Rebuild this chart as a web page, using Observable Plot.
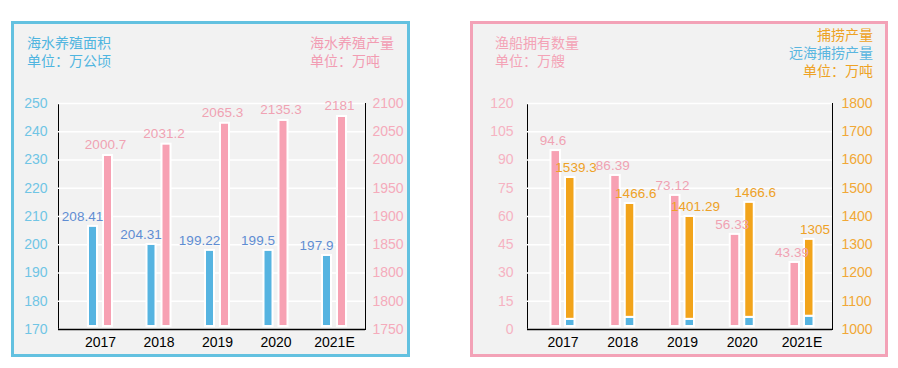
<!DOCTYPE html>
<html>
<head>
<meta charset="utf-8">
<script src="https://cdn.jsdelivr.net/npm/d3@7"></script>
<script src="https://cdn.jsdelivr.net/npm/@observablehq/plot@0.6"></script>
<style>
  html, body { margin: 0; padding: 0; background: #fff; }
  body { width: 898px; height: 368px; position: relative; overflow: hidden;
         font-family: "Liberation Sans", Arial, "Noto Sans CJK SC", sans-serif; }
  .panel { position: absolute; box-sizing: border-box; background: #f2f2f2; }
  .plotwrap { position: absolute; top: 0; }
  .t { position: absolute; font-size: 14px; line-height: 18px; white-space: nowrap; }
</style>
</head>
<body>
<div class="panel" style="left:11px;top:21px;width:399px;height:336px;border:3px solid #63c1e0;"></div>
<div class="panel" style="left:470px;top:21px;width:418px;height:336px;border:3px solid #f3a2b7;"></div>

<div class="t" style="left:27px;top:34px;color:#4fb5e0;">海水养殖面积<br>单位：万公顷</div>
<div class="t" style="left:310px;top:34px;color:#f29cb2;">海水养殖产量<br>单位：万吨</div>
<div class="t" style="left:495px;top:34px;color:#f4a3b6;">渔船拥有数量<br>单位：万艘</div>
<div class="t" style="right:25px;top:26px;text-align:right;"><span style="color:#eea224;">捕捞产量</span><br><span style="color:#5ab6e0;">远海捕捞产量</span><br><span style="color:#eea224;">单位：万吨</span></div>

<div id="chartA" class="plotwrap" style="left:0px;"></div>
<div id="chartB" class="plotwrap" style="left:460px;"></div>

<script>
// ---------- data ----------
const years = ["2017", "2018", "2019", "2020", "2021E"];

// Left panel: 海水养殖面积 (万公顷) and 海水养殖产量 (万吨)
const areaLabels = ["208.41", "204.31", "199.22", "199.5", "197.9"];
const areaBars = [206.5, 200.1, 198.0, 198.0, 196.2];          // bar tops read on left axis
const outputLabels = ["2000.7", "2031.2", "2065.3", "2135.3", "2181"];
const outputBars = [2008, 2028, 2065, 2070, 2077];             // bar tops read on right axis
const areaTicks = [170, 180, 190, 200, 210, 220, 230, 240, 250];
const outputTickLabels = ["1750", "1800", "1800", "1850", "1900", "1950", "2000", "2050", "2100"];

// Right panel: 渔船拥有数量 (万艘), 捕捞产量 / 远海捕捞产量 (万吨)
const vesselLabels = ["94.6", "86.39", "73.12", "56.33", "43.39"];
const vesselBars = [95.0, 81.8, 71.2, 50.5, 35.6];
const catchLabels = ["1539.3", "1466.6", "1401.29", "1466.6", "1305"];
const catchBars = [1538, 1446, 1400, 1450, 1319];
const farSeaBars = [1036, 1043, 1036, 1043, 1047];
const vesselTicks = [0, 15, 30, 45, 60, 75, 90, 105, 120];
const catchTicks = [1000, 1100, 1200, 1300, 1400, 1500, 1600, 1700, 1800];

// ---------- styles ----------
const font = "Liberation Sans, Arial, sans-serif";
const C = {
  blueBar: "#56b4e1", pinkBar: "#f7a1b3", orangeBar: "#f2a41b",
  blueLabel: "#5f8dd3", pinkLabel: "#f0a2b3", orangeLabel: "#eea126",
  blueTick: "#70c5e5", pinkTick: "#f5abbb", pinkTickB: "#f6b3c2", orangeTick: "#f1a836"
};

// ---------- left chart ----------
const rightA = d3.scaleLinear([2000, 2100], [230, 250]); // right-axis reading → left-axis units
const dataA = years.map((year, i) => ({
  year, area: areaBars[i], areaLabel: areaLabels[i],
  out: rightA(outputBars[i]), outLabel: outputLabels[i]
}));
const stepA = 58.5, halfA = stepA / 2;
const chartA = Plot.plot({
  width: 450, height: 368,
  marginLeft: 58, marginRight: 85, marginTop: 103, marginBottom: 39,
  style: {background: "transparent", fontFamily: font, fontSize: "14px", overflow: "visible"},
  x: {type: "band", domain: years, range: [100 - halfA, 100 + 4 * stepA + halfA], padding: 0, round: false, label: null},
  y: {domain: [170, 250], label: null},
  marks: [
    Plot.frame({stroke: "black"}),
    Plot.ruleY(areaTicks, {stroke: "white", strokeWidth: 1.5}),
    Plot.ruleY([170], {stroke: "black", strokeWidth: 1.5}),
    Plot.axisY(areaTicks, {anchor: "left", tickSize: 0, tickPadding: 11, fill: C.blueTick, fontSize: 14, label: null}),
    Plot.axisY(areaTicks, {anchor: "right", tickSize: 0, tickPadding: 7, fill: C.pinkTick, fontSize: 14, label: null,
      tickFormat: (d) => outputTickLabels[areaTicks.indexOf(d)]}),
    Plot.axisX({anchor: "bottom", tickSize: 0, tickPadding: 8, fill: "black", fontSize: 14, label: null}),
    Plot.barY(dataA, {x: "year", y1: 170, y2: "area", fill: C.blueBar, stroke: "white", strokeWidth: 2,
      insetLeft: halfA - 12, insetRight: halfA + 3, insetBottom: 3}),
    Plot.barY(dataA, {x: "year", y1: 170, y2: "out", fill: C.pinkBar, stroke: "white", strokeWidth: 2,
      insetLeft: halfA + 3, insetRight: halfA - 12, insetBottom: 3}),
    Plot.text(dataA, {x: "year", y: "area", text: "areaLabel", dx: -18, dy: -10, fill: C.blueLabel, fontSize: 13.5}),
    Plot.text(dataA, {x: "year", y: "out", text: "outLabel", dx: 5, dy: -11, fill: C.pinkLabel, fontSize: 13.5})
  ]
});
document.getElementById("chartA").appendChild(chartA);

// ---------- right chart ----------
const rightB = d3.scaleLinear([1000, 1800], [0, 120]); // right-axis (万吨) → left-axis units
const dataB = years.map((year, i) => ({
  year, vessel: vesselBars[i], vesselLabel: vesselLabels[i],
  far: rightB(farSeaBars[i]), catch: rightB(catchBars[i]), catchLabel: catchLabels[i]
}));
const stepB = 59.75, halfB = stepB / 2;
const chartB = Plot.plot({
  width: 438, height: 368,
  marginLeft: 67, marginRight: 66, marginTop: 103, marginBottom: 39,
  style: {background: "transparent", fontFamily: font, fontSize: "14px", overflow: "visible"},
  x: {type: "band", domain: years, range: [102.5 - halfB, 102.5 + 4 * stepB + halfB], padding: 0, round: false, label: null},
  y: {domain: [0, 120], label: null},
  marks: [
    Plot.frame({stroke: "black"}),
    Plot.ruleY(vesselTicks, {stroke: "white", strokeWidth: 1.5}),
    Plot.ruleY([0], {stroke: "black", strokeWidth: 1.5}),
    Plot.axisY(vesselTicks, {anchor: "left", tickSize: 0, tickPadding: 14, fill: C.pinkTickB, fontSize: 14, label: null}),
    Plot.axisY(catchTicks.map(rightB), {anchor: "right", tickSize: 0, tickPadding: 9, fill: C.orangeTick, fontSize: 14, label: null,
      tickFormat: (d) => String(Math.round(rightB.invert(d)))}),
    Plot.axisX({anchor: "bottom", tickSize: 0, tickPadding: 8, fill: "black", fontSize: 14, label: null}),
    Plot.barY(dataB, {x: "year", y1: 0, y2: "vessel", fill: C.pinkBar, stroke: "white", strokeWidth: 2,
      insetLeft: halfB - 12, insetRight: halfB + 2.5, insetBottom: 3}),
    Plot.barY(dataB, {x: "year", y1: 0, y2: "far", fill: C.blueBar, stroke: "white", strokeWidth: 2,
      insetLeft: halfB + 2.5, insetRight: halfB - 12, insetBottom: 3}),
    Plot.barY(dataB, {x: "year", y1: "far", y2: "catch", fill: C.orangeBar, stroke: "white", strokeWidth: 2,
      insetLeft: halfB + 2.5, insetRight: halfB - 12}),
    Plot.text(dataB, {x: "year", y: "vessel", text: "vesselLabel", dx: -10, dy: -10, fill: C.pinkLabel, fontSize: 13.5}),
    Plot.text(dataB, {x: "year", y: "catch", text: "catchLabel", dx: 13, dy: -10, fill: C.orangeLabel, fontSize: 13.5})
  ]
});
document.getElementById("chartB").appendChild(chartB);
</script>
</body>
</html>
